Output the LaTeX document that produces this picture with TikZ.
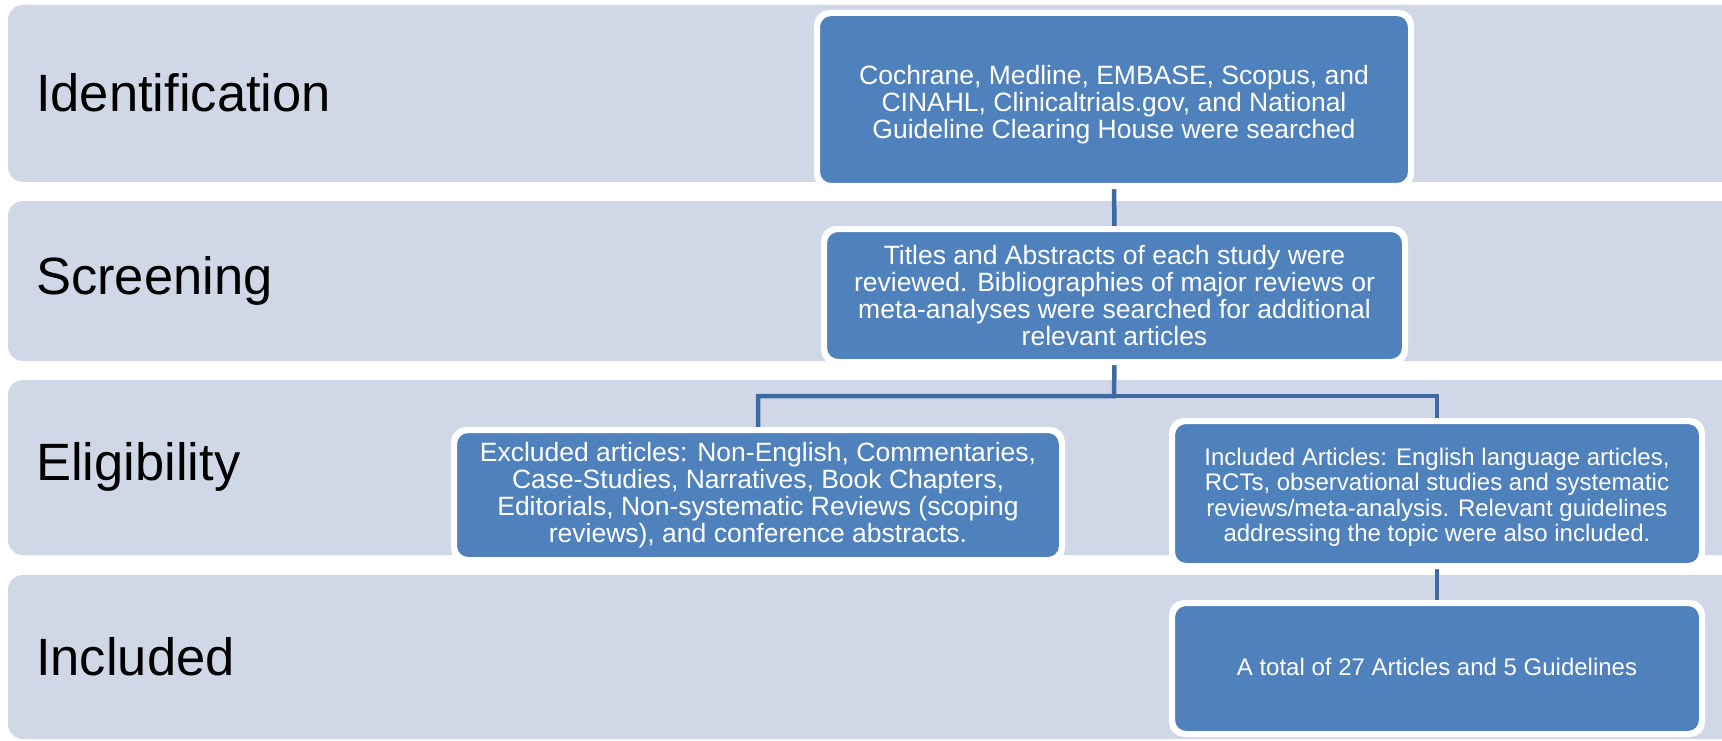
\documentclass[tikz,border=0pt]{standalone}
\usepackage{fontspec}
\setmainfont{Liberation Sans}
\definecolor{bandfill}{RGB}{208,216,232}
\definecolor{boxfill}{RGB}{79,129,189}
\definecolor{linkcol}{RGB}{62,106,162}
\tikzset{
  band/.style={fill=bandfill, rounded corners=15pt},
  bandlabel/.style={anchor=west, inner sep=0pt, font=\fontsize{52.5}{60}\selectfont},
  stepbox/.style={fill=boxfill, draw=white, line width=4pt, rounded corners=13pt, inner sep=0pt},
  boxtext/.style={text=white, align=center, inner sep=0pt},
  bigtext/.style={font=\fontsize{26.5}{27}\selectfont},
  smalltext/.style={font=\fontsize{24}{25.5}\selectfont},
  link/.style={draw=linkcol, line width=4.5pt}
}
\begin{document}
\begin{tikzpicture}[x=1pt,y=-1pt]
\clip (0,0) rectangle (1722,741);
\fill[white] (0,0) rectangle (1722,741);
% bands
\fill[band] (8,5) rectangle (1760,182);
\fill[band] (8,201) rectangle (1760,361);
\fill[band] (8,380) rectangle (1760,555);
\fill[band] (8,575) rectangle (1760,739);
% labels
\node[bandlabel] (lid) at (36,93) {Identification};
\node[bandlabel] (lsc) at (36,281) {Screening};
\node[bandlabel] (lel) at (36,467) {Eligibility};
\node[bandlabel] (lin) at (36,657) {Included};
% boxes
\node[stepbox, minimum width=592pt, minimum height=171pt] (b1) at (1114,99.5) {};
\node[stepbox, minimum width=579pt, minimum height=131pt] (b2) at (1114.5,295.5) {};
\node[stepbox, minimum width=606pt, minimum height=128pt] (excl) at (758,495) {};
\node[stepbox, minimum width=528pt, minimum height=143pt] (incl) at (1437,493.5) {};
\node[stepbox, minimum width=528pt, minimum height=129pt] (tot) at (1437,668.5) {};
% connectors
\coordinate (split) at (1114,396);
\draw[link] (b1.south) -- (b2.north);
\draw[link, line join=miter] (b2.south) -- (split) -| (excl.north);
\draw[link, line join=miter] (split) -| (incl.north);
\draw[link] (incl.south) -- (tot.north);
% redraw white borders over connector ends
\foreach \n in {b1,b2,excl,incl,tot} {\draw[white, line width=4pt, rounded corners=13pt] (\n.north west) rectangle (\n.south east);}
% texts
\node[boxtext, bigtext] (b1t) at ([yshift=-5pt]b1.center)
  {Cochrane, Medline, EMBASE, Scopus, and\\CINAHL, Clinicaltrials.gov, and National\\Guideline Clearing House were searched};
\node[boxtext, bigtext] (b2t) at (b2.center)
  {Titles and Abstracts of each study were\\reviewed. Bibliographies of major reviews or\\meta-analyses were searched for additional\\relevant articles};
\node[boxtext, bigtext] (exclt) at (excl.center)
  {Excluded articles: Non-English, Commentaries,\\Case-Studies, Narratives, Book Chapters,\\Editorials, Non-systematic Reviews (scoping\\reviews), and conference abstracts.};
\node[boxtext, smalltext] (inclt) at ([yshift=-4pt]incl.center)
  {Included Articles: English language articles,\\RCTs, observational studies and systematic\\reviews/meta-analysis. Relevant guidelines\\addressing the topic were also included.};
\node[boxtext, smalltext] (tott) at ([yshift=2pt]tot.center)
  {A total of 27 Articles and 5 Guidelines};
\end{tikzpicture}
\end{document}
